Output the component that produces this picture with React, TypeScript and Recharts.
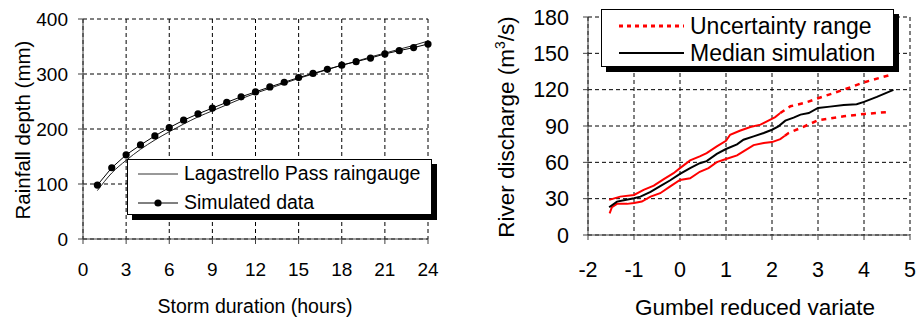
import { LineChart, Line, XAxis, YAxis, CartesianGrid } from 'recharts'

// ------------------------------------------------------------
// Left panel: rainfall depth vs storm duration
// ------------------------------------------------------------
const HOURS = [1, 2, 3, 4, 5, 6, 7, 8, 9, 10, 11, 12, 13, 14, 15, 16, 17, 18, 19, 20, 21, 22, 23, 24]
const GAUGE_DEPTH = [88, 120, 143, 163, 180, 195, 209, 222, 233, 244, 255, 265, 274, 283, 292, 300, 308, 316, 323, 331, 338, 345, 352, 360]
const SIM_DEPTH = [98, 129.5, 153, 171, 187.5, 202.5, 216, 227.5, 238, 248.5, 258.5, 267.5, 276.5, 285, 293.5, 301, 308.5, 316, 322.5, 329, 336.5, 342.5, 348, 354.5]
const DURATION_TICKS = [0, 3, 6, 9, 12, 15, 18, 21, 24]
const DEPTH_TICKS = [0, 100, 200, 300, 400]

// ------------------------------------------------------------
// Right panel: discharge vs Gumbel reduced variate
// ------------------------------------------------------------
const MEDIAN_X = [-1.54, -1.37, -1.22, -1.0, -0.86, -0.64, -0.43, -0.22, 0, 0.22, 0.43, 0.58, 0.8, 1.0, 1.24, 1.38, 1.6, 1.82, 2.0, 2.14, 2.29, 2.47, 2.62, 2.8, 3.0, 3.26, 3.56, 3.84, 4.0, 4.28, 4.64]
const MEDIAN_Q = [22.9, 27.6, 28.7, 30.4, 31.7, 35.6, 40.3, 45, 50.5, 55.2, 59.3, 61, 67, 71, 74.8, 78.7, 81.4, 84.2, 86.9, 89.7, 94.4, 96.9, 99.4, 100.7, 104.9, 106, 107.4, 107.9, 109.9, 114, 119.8]

const UPPER_X = [-1.54, -1.3, -1.0, -0.79, -0.57, -0.36, -0.14, 0, 0.22, 0.43, 0.58, 0.8, 1.0, 1.09, 1.3, 1.53, 1.75, 1.89, 2.07, 2.18]
const UPPER_Q = [29, 31.7, 33.1, 37.3, 40.8, 46, 51, 55.2, 61.6, 64.9, 67.6, 73.2, 77.8, 82.8, 86.1, 89.2, 91.1, 93.9, 97.4, 100.7]
const UPPER_TAIL_X = [2.18, 2.4, 2.7, 3.0, 3.56, 4.0, 4.53]
const UPPER_TAIL_Q = [100.7, 106.3, 109, 112.9, 120, 126.1, 131.7]

const LOWER_X = [-1.53, -1.48, -1.37, -1.15, -1.0, -0.83, -0.64, -0.43, -0.22, 0, 0.22, 0.43, 0.62, 0.8, 1.0, 1.24, 1.38, 1.6, 1.82, 2.0, 2.18, 2.28]
const LOWER_Q = [17.9, 22.9, 25.7, 25.7, 26.5, 27.6, 31.7, 34.5, 40, 45.5, 46.8, 52.2, 55.2, 60.2, 62.7, 65.7, 69, 74.2, 75.9, 76.7, 79.2, 82]
const LOWER_TAIL_X = [2.28, 2.36, 2.62, 3.0, 3.56, 4.0, 4.53]
const LOWER_TAIL_Q = [82, 84.2, 88.3, 94.7, 98, 99.9, 101.6]

const VARIATE_TICKS = [-2, -1, 0, 1, 2, 3, 4, 5]
const DISCHARGE_TICKS = [0, 30, 60, 90, 120, 150, 180]

const FONT = '"Liberation Sans", Arial, Helvetica, sans-serif'
const RED = '#ff0000'

const rainRows = HOURS.map((h, i) => ({ hour: h, gauge: GAUGE_DEPTH[i], sim: SIM_DEPTH[i] }))
const toPts = (xs: number[], qs: number[]) => xs.map((x, i) => ({ x, q: qs[i] }))
const medianPts = toPts(MEDIAN_X, MEDIAN_Q)
const upperPts = toPts(UPPER_X, UPPER_Q)
const upperTailPts = toPts(UPPER_TAIL_X, UPPER_TAIL_Q)
const lowerPts = toPts(LOWER_X, LOWER_Q)
const lowerTailPts = toPts(LOWER_TAIL_X, LOWER_TAIL_Q)

const boxStyle = (left: number, top: number, width: number, height: number): React.CSSProperties => ({
  position: 'absolute',
  left,
  top,
  width,
  height,
  boxSizing: 'border-box',
  background: '#fff',
  border: '1px solid #000',
  boxShadow: '5px 5px 0 #000',
})

const rowStyle = (center: number, left: number, fontSize: number): React.CSSProperties => ({
  position: 'absolute',
  left,
  top: center - 15,
  height: 30,
  display: 'flex',
  alignItems: 'center',
  fontSize,
  lineHeight: 1,
  whiteSpace: 'nowrap',
  color: '#000',
})

function RainfallPanel() {
  return (
    <div style={{ position: 'absolute', left: 0, top: 0, width: 460, height: 322 }}>
      <LineChart width={460} height={322} data={rainRows} margin={{ top: 19, right: 32, bottom: 0, left: 0 }}>
        <CartesianGrid stroke="#000" strokeDasharray="4 3" />
        <XAxis
          dataKey="hour"
          type="number"
          domain={[0, 24]}
          ticks={DURATION_TICKS}
          interval={0}
          height={83}
          tickSize={5}
          tickMargin={19}
          stroke="#404040"
          tick={{ fill: '#000', fontSize: 19 }}
        />
        <YAxis
          type="number"
          domain={[0, 400]}
          ticks={DEPTH_TICKS}
          interval={0}
          width={83}
          tickSize={5}
          tickMargin={10}
          stroke="#404040"
          tick={{ fill: '#000', fontSize: 19 }}
        />
        <Line dataKey="gauge" type="monotone" stroke="#222" strokeWidth={1} dot={false} isAnimationActive={false} />
        <Line
          dataKey="sim"
          type="linear"
          stroke="#000"
          strokeWidth={1}
          dot={{ r: 3.6, fill: '#000', stroke: '#000', strokeWidth: 0 }}
          isAnimationActive={false}
        />
      </LineChart>

      {/* legend */}
      <div style={boxStyle(127, 159, 305, 56)}>
        <div style={rowStyle(14, 10, 19.5)}>
          <svg width={40} height={10} style={{ marginRight: 6 }}>
            <line x1={0} y1={5} x2={40} y2={5} stroke="#333" strokeWidth={1} />
          </svg>
          Lagastrello Pass raingauge
        </div>
        <div style={rowStyle(43, 10, 19.5)}>
          <svg width={40} height={10} style={{ marginRight: 6 }}>
            <line x1={0} y1={5} x2={40} y2={5} stroke="#000" strokeWidth={1} />
            <circle cx={20} cy={5} r={3.6} fill="#000" />
          </svg>
          Simulated data
        </div>
      </div>

      {/* axis titles */}
      <div style={{ position: 'absolute', left: 255, top: 307, transform: 'translate(-50%, -50%)', fontSize: 19.5, whiteSpace: 'nowrap', lineHeight: 1 }}>
        Storm duration (hours)
      </div>
      <div style={{ position: 'absolute', left: 23, top: 130, transform: 'translate(-50%, -50%) rotate(-90deg)', fontSize: 20.5, whiteSpace: 'nowrap', lineHeight: 1 }}>
        Rainfall depth (mm)
      </div>
    </div>
  )
}

function DischargePanel() {
  return (
    <div style={{ position: 'absolute', left: 460, top: 0, width: 456, height: 322 }}>
      <LineChart width={456} height={322} margin={{ top: 17, right: 6, bottom: 0, left: 0 }}>
        <CartesianGrid stroke="#000" strokeDasharray="4 3" />
        <XAxis
          dataKey="x"
          type="number"
          domain={[-2, 5]}
          ticks={VARIATE_TICKS}
          interval={0}
          height={87}
          tickSize={5}
          tickMargin={22}
          stroke="#404040"
          tick={{ fill: '#000', fontSize: 21.5 }}
        />
        <YAxis
          type="number"
          domain={[0, 180]}
          ticks={DISCHARGE_TICKS}
          interval={0}
          width={128}
          tickSize={5}
          tickMargin={14}
          stroke="#404040"
          tick={{ fill: '#000', fontSize: 21.5 }}
        />
        <Line data={upperPts} dataKey="q" stroke={RED} strokeWidth={2} dot={false} isAnimationActive={false} />
        <Line data={upperTailPts} dataKey="q" stroke={RED} strokeWidth={2.5} strokeDasharray="5 5" dot={false} isAnimationActive={false} />
        <Line data={lowerPts} dataKey="q" stroke={RED} strokeWidth={2} dot={false} isAnimationActive={false} />
        <Line data={lowerTailPts} dataKey="q" stroke={RED} strokeWidth={2.5} strokeDasharray="5 5" dot={false} isAnimationActive={false} />
        <Line data={medianPts} dataKey="q" stroke="#000" strokeWidth={2} dot={false} isAnimationActive={false} />
      </LineChart>

      {/* legend */}
      <div style={boxStyle(141, 9, 293, 58)}>
        <div style={rowStyle(16, 17, 23)}>
          <svg width={65} height={10} style={{ marginRight: 6 }}>
            <line x1={0} y1={5} x2={65} y2={5} stroke={RED} strokeWidth={3} strokeDasharray="4 4" />
          </svg>
          Uncertainty range
        </div>
        <div style={rowStyle(43, 17, 23)}>
          <svg width={65} height={10} style={{ marginRight: 6 }}>
            <line x1={0} y1={5} x2={65} y2={5} stroke="#000" strokeWidth={2} />
          </svg>
          Median simulation
        </div>
      </div>

      {/* axis titles */}
      <div style={{ position: 'absolute', left: 295, top: 308, transform: 'translate(-50%, -50%)', fontSize: 22.5, whiteSpace: 'nowrap', lineHeight: 1 }}>
        Gumbel reduced variate
      </div>
      <div style={{ position: 'absolute', left: 47, top: 127, transform: 'translate(-50%, -50%) rotate(-90deg)', fontSize: 22.5, whiteSpace: 'nowrap', lineHeight: 1 }}>
        River discharge (m<sup style={{ fontSize: '0.62em', lineHeight: 0 }}>3</sup>/s)
      </div>
    </div>
  )
}

export default function App() {
  return (
    <div style={{ position: 'absolute', left: 0, top: 0, width: 916, height: 322, background: '#fff', fontFamily: FONT, overflow: 'hidden' }}>
      <RainfallPanel />
      <DischargePanel />
    </div>
  )
}
